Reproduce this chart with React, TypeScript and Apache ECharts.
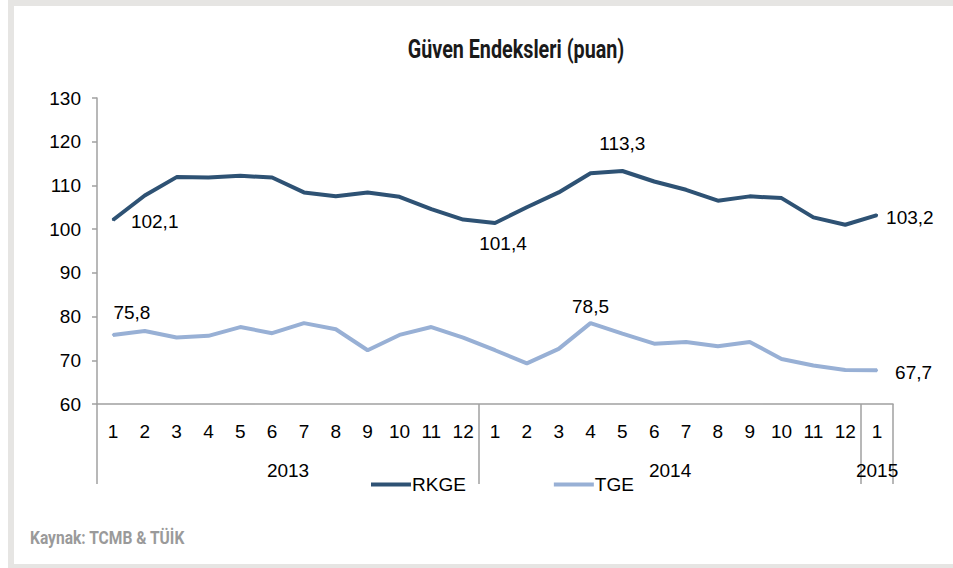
import React, { useEffect, useRef } from "react";
import * as echarts from "echarts";

const MONTHS = ["1","2","3","4","5","6","7","8","9","10","11","12","1","2","3","4","5","6","7","8","9","10","11","12","1"];
const YEARS = ["2013", "2014", "2015"];
const YEAR_SIZES = [12, 12, 1];
const RKGE = [102.1, 107.7, 111.9, 111.8, 112.2, 111.8, 108.4, 107.5, 108.4, 107.4, 104.6, 102.2, 101.4, 105.0, 108.4, 112.8, 113.3, 110.9, 109.0, 106.5, 107.5, 107.1, 102.7, 101.0, 103.2];
const TGE = [75.8, 76.7, 75.2, 75.6, 77.6, 76.2, 78.5, 77.1, 72.3, 75.8, 77.6, 75.2, 72.3, 69.3, 72.6, 78.5, 76.1, 73.8, 74.2, 73.2, 74.2, 70.3, 68.8, 67.8, 67.7];
const Y_TICKS = { min: 60, max: 130, interval: 10 };

const FONT = "'Liberation Sans', Arial, sans-serif";
const COND = "Roboto, 'Liberation Sans', sans-serif";
const AXIS_COLOR = "#a0a0a0";
const FS = 19;

const fmt = (v: number) => v.toFixed(1).replace(".", ",");

export default function App() {
  const ref = useRef<HTMLDivElement>(null);
  useEffect(() => {
    if (!ref.current) return;
    const chart = echarts.init(ref.current, null, { renderer: "svg" });

    const boundaries: number[] = [0];
    const centers: number[] = [];
    YEAR_SIZES.forEach((s) => {
      const start = boundaries[boundaries.length - 1];
      centers.push(start + s / 2);
      boundaries.push(start + s);
    });

    const rkgeLabels: Record<number, any> = {
      0: { position: "right", distance: 17, offset: [0, 2] },
      12: { position: "bottom", distance: 10, offset: [8, 0] },
      16: { position: "top", distance: 17 },
      24: { position: "right", distance: 8, offset: [0, 2] },
    };
    const tgeLabels: Record<number, any> = {
      0: { position: "top", distance: 12, offset: [19, 0] },
      15: { position: "top", distance: 6 },
      24: { position: "right", distance: 17, offset: [0, 2] },
    };
    const mkData = (arr: number[], labels: Record<number, any>) =>
      arr.map((v, i) => ({
        value: v,
        label: labels[i]
          ? { show: true, ...labels[i], formatter: (p: any) => fmt(p.value), color: "#000", fontSize: FS, fontFamily: FONT }
          : { show: false },
      }));

    chart.setOption({
      animation: false,
      backgroundColor: "#fff",
      grid: { left: 97, right: 60, top: 98, bottom: 164, containLabel: false },
      legend: {
        left: 366,
        top: 470,
        itemGap: 88,
        itemWidth: 40,
        itemHeight: 4,
        icon: "rect",
        textStyle: { fontFamily: FONT, fontSize: FS, color: "#000", padding: [0, 0, 0, -4] },
        data: ["RKGE", "TGE"],
      },
      xAxis: [
        {
          type: "category",
          data: MONTHS,
          boundaryGap: true,
          axisLine: { lineStyle: { color: AXIS_COLOR, width: 1.5 } },
          axisTick: { interval: 0, length: 40, lineStyle: { color: AXIS_COLOR, width: 1.5 } },
          axisLabel: { interval: 0, margin: 18, fontFamily: FONT, fontSize: FS, color: "#000" },
          splitLine: { show: false },
        },
        {
          type: "value",
          position: "bottom",
          min: 0,
          max: boundaries[boundaries.length - 1],
          axisLine: { show: false },
          splitLine: { show: false },
          axisTick: { show: true, customValues: boundaries, length: 80, lineStyle: { color: AXIS_COLOR, width: 1.5 } },
          axisLabel: {
            customValues: centers,
            margin: 57,
            fontFamily: FONT,
            fontSize: FS,
            color: "#000",
            formatter: (v: number) => {
              const idx = centers.findIndex((c) => Math.abs(c - v) < 1e-6);
              return idx >= 0 ? YEARS[idx] : "";
            },
          },
        },
      ],
      yAxis: {
        type: "value",
        min: Y_TICKS.min,
        max: Y_TICKS.max,
        interval: Y_TICKS.interval,
        axisLine: { show: true, lineStyle: { color: AXIS_COLOR, width: 1.5 } },
        axisTick: { show: true, length: 5, lineStyle: { color: AXIS_COLOR, width: 1.5 } },
        axisLabel: { margin: 16, fontFamily: FONT, fontSize: FS, color: "#000" },
        splitLine: { show: false },
      },
      series: [
        {
          name: "RKGE",
          type: "line",
          xAxisIndex: 0,
          data: mkData(RKGE, rkgeLabels),
          symbol: "circle",
          symbolSize: 2,
          showSymbol: true,
          itemStyle: { color: "#2e5274" },
          lineStyle: { color: "#2e5274", width: 4 },
          emphasis: { disabled: true },
        },
        {
          name: "TGE",
          type: "line",
          xAxisIndex: 0,
          data: mkData(TGE, tgeLabels),
          symbol: "circle",
          symbolSize: 2,
          showSymbol: true,
          itemStyle: { color: "#98b0d5" },
          lineStyle: { color: "#98b0d5", width: 4 },
          emphasis: { disabled: true },
        },
      ],
      graphic: [
        { type: "rect", shape: { x: 8, y: 0, width: 945, height: 6 }, style: { fill: "#e6e5e3" }, silent: true },
        { type: "rect", shape: { x: 8, y: 0, width: 6, height: 568 }, style: { fill: "#e6e5e3" }, silent: true },
        { type: "rect", shape: { x: 8, y: 564, width: 945, height: 4 }, style: { fill: "#e6e5e3" }, silent: true },
        {
          type: "text",
          x: 516,
          y: 49,
          scaleX: 0.79,
          style: {
            text: "Güven Endeksleri (puan)",
            fill: "#1a1a1a",
            font: `bold 25px ${COND}`,
            align: "center",
            verticalAlign: "middle",
          },
          silent: true,
        },
        {
          type: "text",
          x: 30,
          y: 537,
          scaleX: 0.82,
          style: {
            text: "Kaynak: TCMB & TÜİK",
            fill: "#9a9a9a",
            font: `bold 19px ${COND}`,
            verticalAlign: "middle",
          },
          silent: true,
        },
      ],
    });
    return () => chart.dispose();
  }, []);
  return <div ref={ref} style={{ position: "absolute", left: 0, top: 0, width: 953, height: 568 }} />;
}
